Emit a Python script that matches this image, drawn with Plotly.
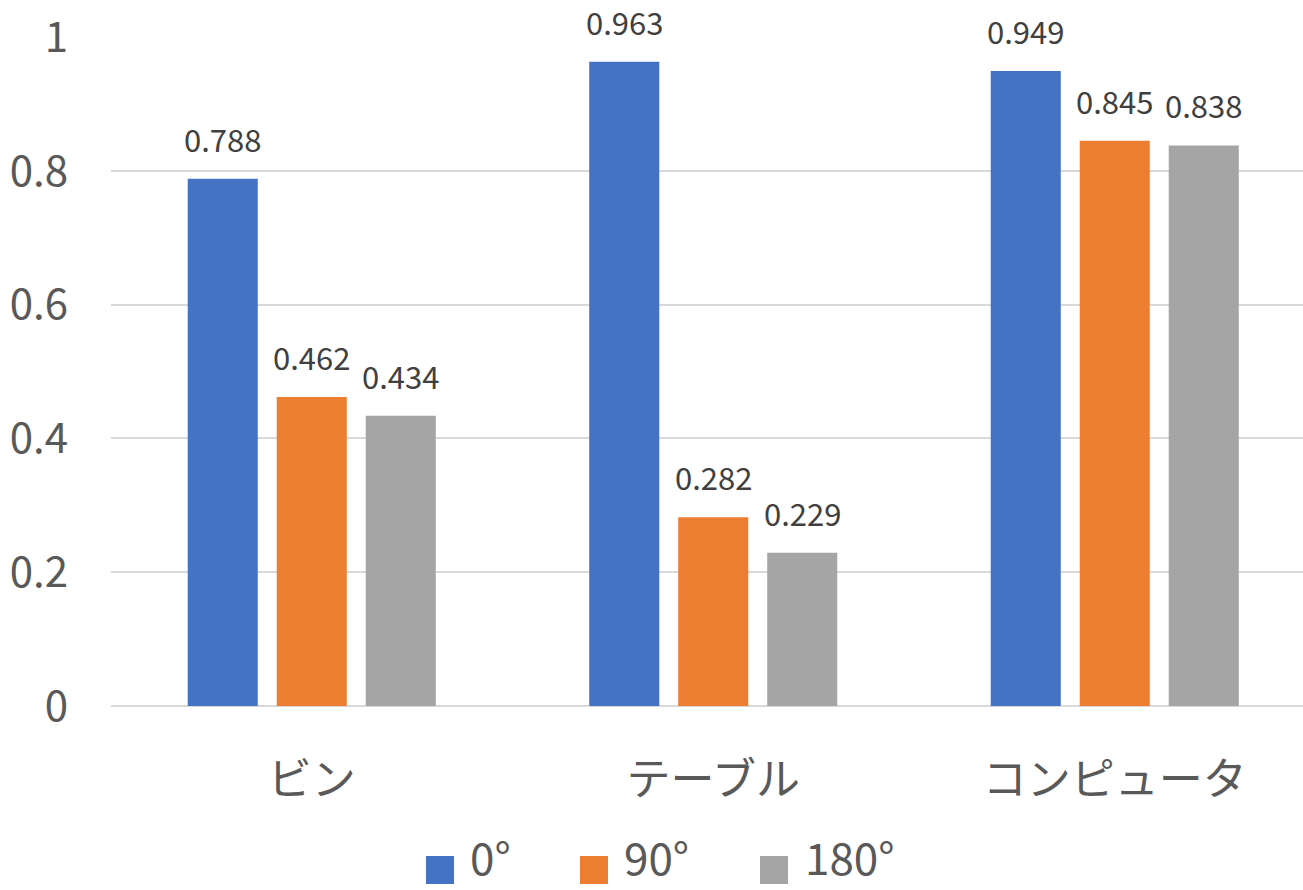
import plotly.graph_objects as go

categories = ["ビン", "テーブル", "コンピュータ"]
series_names = ["0°", "90°", "180°"]
values_0 = [0.788, 0.963, 0.949]
values_90 = [0.462, 0.282, 0.845]
values_180 = [0.434, 0.229, 0.838]
colors = ["#4472C4", "#ED7D31", "#A5A5A5"]
y_ticks = [0, 0.2, 0.4, 0.6, 0.8, 1]
y_tick_labels = ["0", "0.2", "0.4", "0.6", "0.8", "1"]

all_values = [values_0, values_90, values_180]

W, H = 1303, 890
ML, MR, MT, MB = 111, 0, 37, 184
PW = W - ML - MR
PH = H - MT - MB
CAT_W = 401.5
FONT = "Noto Sans CJK JP"
TXT = "#595959"

def px_x(px):
    return (px - ML) / PW

def px_y(py):
    return (H - MB - py) / PH

fig = go.Figure()
for name, vals, col in zip(series_names, all_values, colors):
    fig.add_trace(go.Bar(x=categories, y=vals, name=name, marker_color=col,
                         marker_line_width=0, showlegend=False))

bargap = 0.335
slot = (1 - bargap) * CAT_W / 3
annotations = []
for i, vals in enumerate(all_values):
    for cat, v in zip(categories, vals):
        annotations.append(dict(x=cat, y=v, xref="x", yref="y", text=f"{v:.3f}",
                                showarrow=False, xshift=(i - 1) * slot, yshift=16,
                                yanchor="bottom", font=dict(size=31, color="#404040", family=FONT)))

# custom legend
sq_left = [426, 580, 760]
txt_left = [468, 622, 803]
shapes = []
for name, col, sl, tl in zip(series_names, colors, sq_left, txt_left):
    shapes.append(dict(type="rect", xref="paper", yref="paper",
                       x0=px_x(sl), x1=px_x(sl + 28), y0=px_y(884), y1=px_y(856),
                       fillcolor=col, line_width=0))
    annotations.append(dict(x=px_x(tl), y=px_y(856), xref="paper", yref="paper", text=name,
                            showarrow=False, xanchor="left", yanchor="middle",
                            font=dict(size=44, color=TXT, family=FONT)))

fig.update_layout(
    width=W, height=H,
    margin=dict(l=ML, r=MR, t=MT, b=MB),
    paper_bgcolor="white", plot_bgcolor="white",
    barmode="group", bargap=bargap, bargroupgap=0.213,
    font=dict(family=FONT, color=TXT),
    annotations=annotations, shapes=shapes,
    showlegend=False,
)
fig.update_xaxes(range=[-0.5, -0.5 + PW / CAT_W], showgrid=False, showline=False,
                 ticks="", tickfont=dict(size=44, color=TXT, family=FONT),
                 ticklabelstandoff=44)
fig.update_yaxes(range=[0, 1], tickvals=y_ticks, ticktext=y_tick_labels,
                 showgrid=True, gridcolor="#D9D9D9", gridwidth=1.5,
                 zeroline=True, zerolinecolor="#D9D9D9", zerolinewidth=1.5,
                 showline=False, ticks="", tickfont=dict(size=42, color=TXT, family=FONT),
                 ticklabelstandoff=42)

fig.write_html("out.html")
